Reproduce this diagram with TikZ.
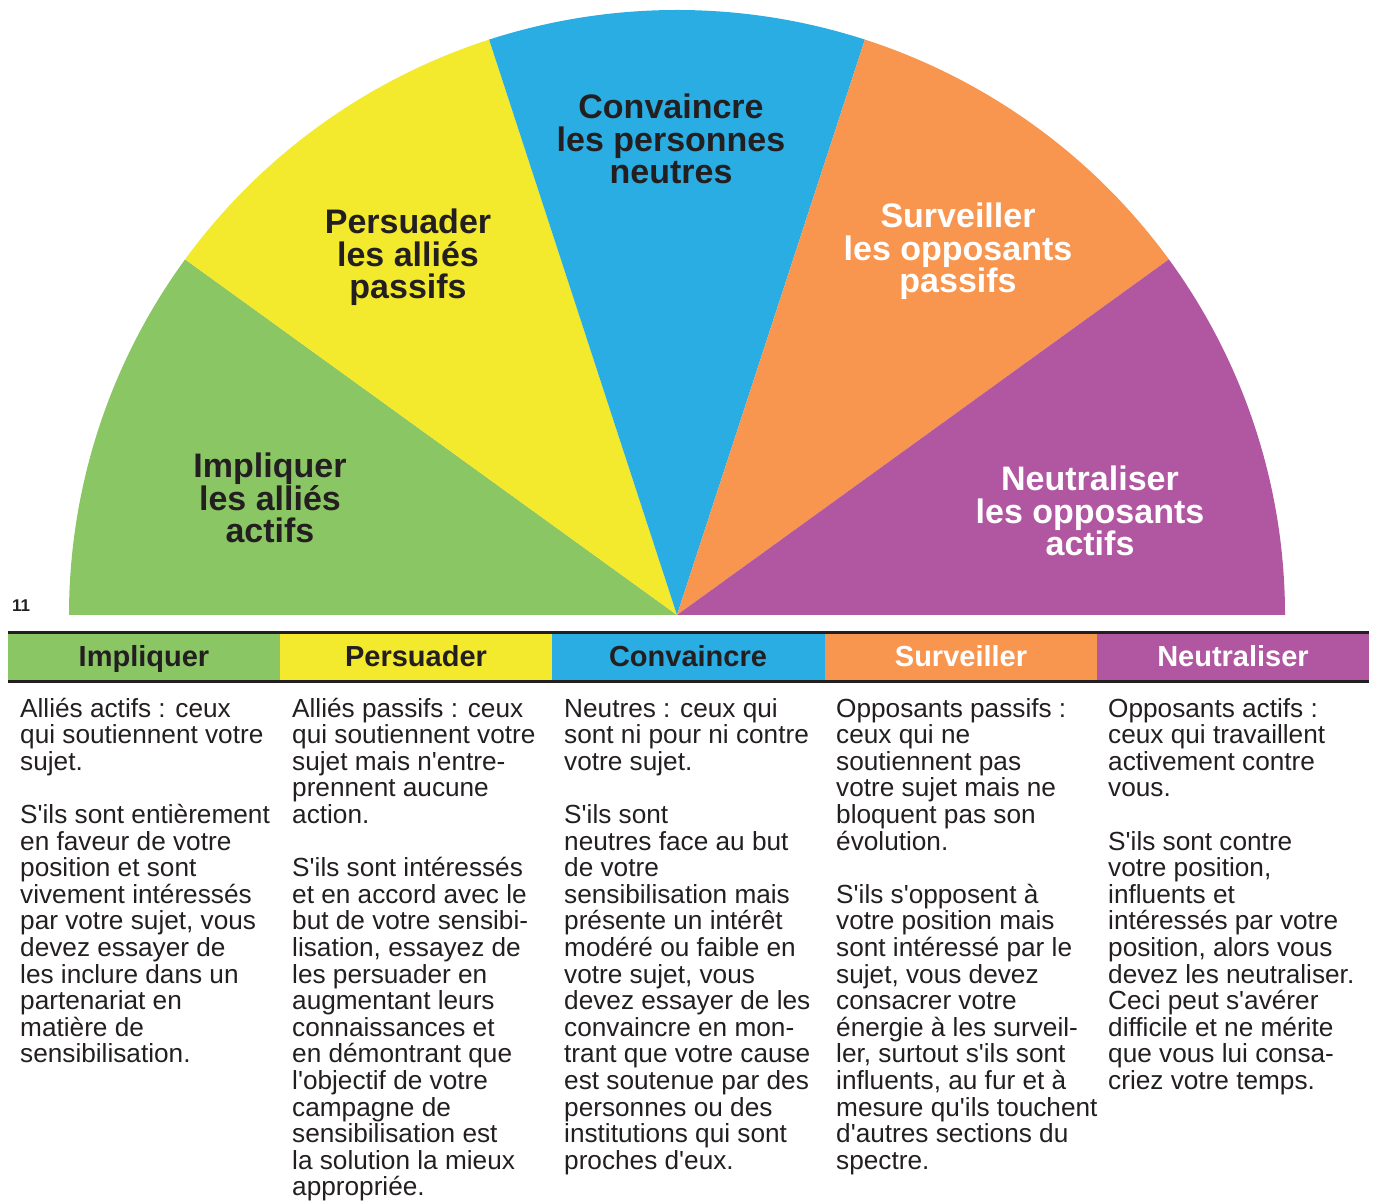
\documentclass[tikz,border=0pt]{standalone}
\usepackage{fontspec}
\setmainfont{Liberation Sans}[Ligatures=TeXOff]
\definecolor{grass}{RGB}{139, 198, 101}
\definecolor{lemon}{RGB}{243, 233, 45}
\definecolor{sky}{RGB}{41, 173, 226}
\definecolor{tangerine}{RGB}{248, 150, 80}
\definecolor{plum}{RGB}{177, 87, 162}
\definecolor{ink}{RGB}{35, 31, 32}

\tikzset{
  fanlabel/.style={font=\bfseries\fontsize{34}{32.5}\selectfont, align=center, anchor=base, inner sep=0pt},
  headlabel/.style={font=\bfseries\fontsize{29}{30}\selectfont, anchor=base, inner sep=0pt},
  bodytext/.style={font=\fontsize{26.2}{26.6}\selectfont, align=left, anchor=base west, inner sep=0pt, text=ink}
}

\begin{document}
\begin{tikzpicture}[x=1pt, y=1pt, text=ink]
            \useasboundingbox (0,0) rectangle (1375,1200);
            % the fan
            \coordinate (hub) at (677,585);
            \fill[grass]     (hub) -- ++(180:608 and 605) arc[start angle=180, end angle=144, x radius=608, y radius=605] -- cycle;
            \fill[lemon]     (hub) -- ++(144:608 and 605) arc[start angle=144, end angle=108, x radius=608, y radius=605] -- cycle;
            \fill[sky]       (hub) -- ++(108:608 and 605) arc[start angle=108, end angle= 72, x radius=608, y radius=605] -- cycle;
            \fill[tangerine] (hub) -- ++( 72:608 and 605) arc[start angle= 72, end angle= 36, x radius=608, y radius=605] -- cycle;
            \fill[plum]      (hub) -- ++( 36:608 and 605) arc[start angle= 36, end angle=  0, x radius=608, y radius=605] -- cycle;

            % labels sit on the baseline of their last line
            \node[fanlabel]             (impliquer)   at ( 270, 657) {Impliquer\\les alliés\\actifs};
            \node[fanlabel]             (persuader)   at ( 408, 901) {Persuader\\les alliés\\passifs};
            \node[fanlabel]             (convaincre)  at ( 671,1016) {Convaincre\\les personnes\\neutres};
            \node[fanlabel, text=white] (surveiller)  at ( 958, 907) {Surveiller\\les opposants\\passifs};
            \node[fanlabel, text=white] (neutraliser) at (1090, 644) {Neutraliser\\les opposants\\actifs};

            \node[font=\bfseries\fontsize{17}{17}\selectfont, anchor=base west, inner sep=0pt] (pagenum) at (12,588) {11};

            % header row of the table
            \fill[grass]     (   8.0,518.5) rectangle ( 280.2,567.5);
            \fill[lemon]     ( 280.2,518.5) rectangle ( 552.4,567.5);
            \fill[sky]       ( 552.4,518.5) rectangle ( 824.6,567.5);
            \fill[tangerine] ( 824.6,518.5) rectangle (1096.8,567.5);
            \fill[plum]      (1096.8,518.5) rectangle (1369.0,567.5);
            \draw[ink, line width=2.5pt] (8,567.5) -- (1369,567.5);
            \draw[ink, line width=2.5pt] (8,518.5) -- (1369,518.5);

            \node[headlabel]             (h1) at ( 144,533) {Impliquer};
            \node[headlabel]             (h2) at ( 416,533) {Persuader};
            \node[headlabel]             (h3) at ( 688,533) {Convaincre};
            \node[headlabel, text=white] (h4) at ( 961,533) {Surveiller};
            \node[headlabel, text=white] (h5) at (1233,533) {Neutraliser};

            % one column of text under each heading (anchored at the last line)
            \node[bodytext] (t1) at (  20,137.2) {Alliés actifs : ceux\\qui soutiennent votre\\sujet.\\[26.6pt]
              S'ils sont entièrement\\en faveur de votre\\position et sont\\vivement intéressés\\par votre sujet, vous\\devez essayer de\\les inclure dans un\\partenariat en\\matière de\\sensibilisation.};
            \node[bodytext] (t2) at ( 292,  4.2) {Alliés passifs : ceux\\qui soutiennent votre\\sujet mais n'entre-\\prennent aucune\\action.\\[26.6pt]
              S'ils sont intéressés\\et en accord avec le\\but de votre sensibi-\\lisation, essayez de\\les persuader en\\augmentant leurs\\connaissances et\\en démontrant que\\l'objectif de votre\\campagne de\\sensibilisation est\\la solution la mieux\\appropriée.};
            \node[bodytext] (t3) at ( 564, 30.8) {Neutres : ceux qui\\sont ni pour ni contre\\votre sujet.\\[26.6pt]
              S'ils sont\\neutres face au but\\de votre\\sensibilisation mais\\présente un intérêt\\modéré ou faible en\\votre sujet, vous\\devez essayer de les\\convaincre en mon-\\trant que votre cause\\est soutenue par des\\personnes ou des\\institutions qui sont\\proches d'eux.};
            \node[bodytext] (t4) at ( 836, 30.8) {Opposants passifs :\\ceux qui ne\\soutiennent pas\\votre sujet mais ne\\bloquent pas son\\évolution.\\[26.6pt]
              S'ils s'opposent à\\votre position mais\\sont intéressé par le\\sujet, vous devez\\consacrer votre\\énergie à les surveil-\\ler, surtout s'ils sont\\influents, au fur et à\\mesure qu'ils touchent\\d'autres sections du\\spectre.};
            \node[bodytext] (t5) at (1108,110.6) {Opposants actifs :\\ceux qui travaillent\\activement contre\\vous.\\[26.6pt]
              S'ils sont contre\\votre position,\\influents et\\intéressés par votre\\position, alors vous\\devez les neutraliser.\\Ceci peut s'avérer\\difficile et ne mérite\\que vous lui consa-\\criez votre temps.};
            \end{tikzpicture}
\end{document}
